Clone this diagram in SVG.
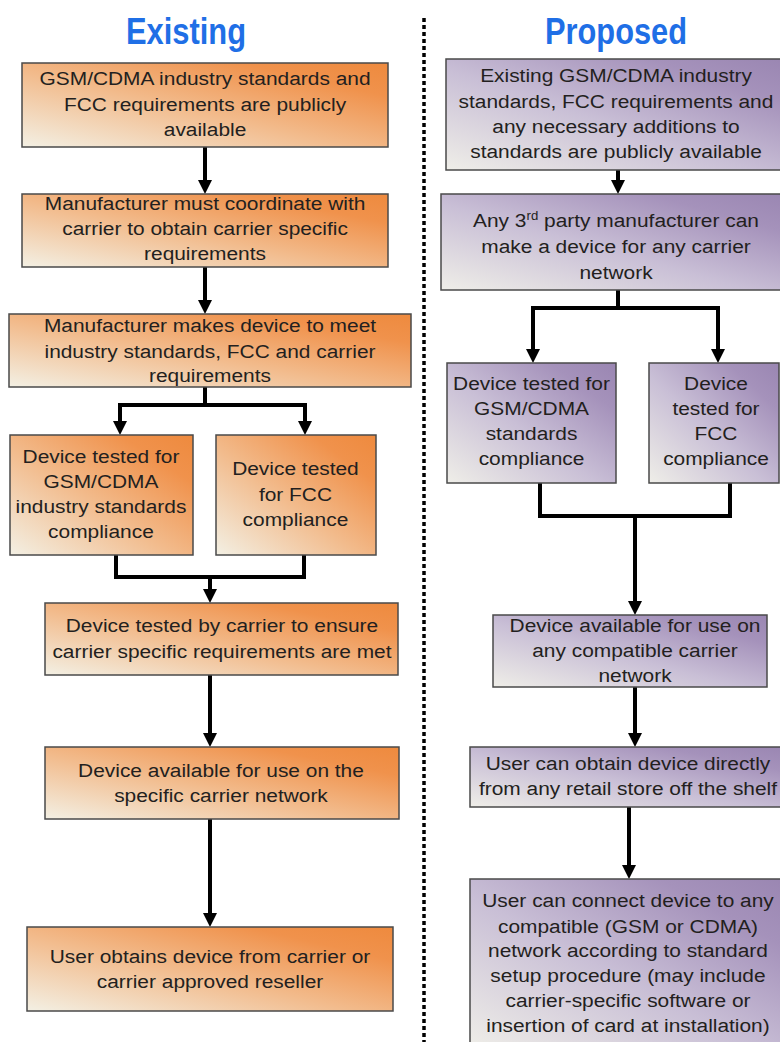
<svg xmlns="http://www.w3.org/2000/svg" width="780" height="1042" viewBox="0 0 780 1042">
<style>
.t{font-family:"Liberation Sans",Arial,sans-serif;font-size:19px;fill:#231f20;text-anchor:middle}
.h{font-family:"Liberation Sans",Arial,sans-serif;font-weight:bold;font-size:36px;fill:#1f6fe6;text-anchor:middle}
.o{fill:url(#og);stroke:#4a4a4a;stroke-width:1.5}
.p{fill:url(#pg);stroke:#4a4a4a;stroke-width:1.5}
.c{fill:none;stroke:#000;stroke-width:4;marker-end:url(#ah)}
.cn{fill:none;stroke:#000;stroke-width:4}
</style>
<defs>
<linearGradient id="og" x1="0" y1="1" x2="1" y2="0">
<stop offset="0" stop-color="#f3f0e4"/>
<stop offset="0.45" stop-color="#f2bb8c"/>
<stop offset="0.8" stop-color="#f0924c"/>
<stop offset="1" stop-color="#ee8a3e"/>
</linearGradient>
<linearGradient id="pg" x1="0" y1="1" x2="1" y2="0">
<stop offset="0" stop-color="#efeee8"/>
<stop offset="0.45" stop-color="#c9bfd6"/>
<stop offset="0.8" stop-color="#a592bb"/>
<stop offset="1" stop-color="#9a86b2"/>
</linearGradient>
<marker id="ah" viewBox="0 0 14 14" markerWidth="14" markerHeight="14" refX="6" refY="7" orient="auto" markerUnits="userSpaceOnUse">
<path d="M0,0 L14,7 L0,14 z" fill="#000"/>
</marker>
</defs>
<rect width="780" height="1042" fill="#fff"/>

<text class="h" x="186" y="44" textLength="120" lengthAdjust="spacingAndGlyphs">Existing</text>
<text class="h" x="616" y="44" textLength="142" lengthAdjust="spacingAndGlyphs">Proposed</text>
<line x1="424" y1="18" x2="424" y2="1042" stroke="#000" stroke-width="3.5" stroke-dasharray="4 3"/>

<g id="connectors">
<path class="c" d="M205,147 V186"/>
<path class="c" d="M205,267 V306"/>
<path class="c" d="M205,387 V405 H120 V427"/>
<path class="c" d="M205,405 H305 V427"/>
<path class="cn" d="M116,555 V577 H304 V555"/>
<path class="c" d="M210,577 V595"/>
<path class="c" d="M210,675 V739"/>
<path class="c" d="M210,819 V919"/>
<path class="c" d="M618,170 V186"/>
<path class="c" d="M618,290 V308 H533 V355"/>
<path class="c" d="M618,308 H718 V355"/>
<path class="cn" d="M540,483 V516 H730 V483"/>
<path class="c" d="M635,516 V607"/>
<path class="c" d="M635,687 V739"/>
<path class="c" d="M629,807 V871"/>
</g>

<g id="L1"><rect class="o" x="22" y="63" width="366" height="84"/>
<text class="t" transform="scale(1.1,1)"><tspan x="186.4" y="85">GSM/CDMA industry standards and</tspan><tspan x="186.4" y="111">FCC requirements are publicly</tspan><tspan x="186.4" y="136">available</tspan></text></g>
<g id="L2"><rect class="o" x="22" y="194" width="366" height="73"/>
<text class="t" transform="scale(1.1,1)"><tspan x="186.4" y="210">Manufacturer must coordinate with</tspan><tspan x="186.4" y="235">carrier to obtain carrier specific</tspan><tspan x="186.4" y="260">requirements</tspan></text></g>
<g id="L3"><rect class="o" x="9" y="314" width="402" height="73"/>
<text class="t" transform="scale(1.1,1)"><tspan x="190.9" y="332">Manufacturer makes device to meet</tspan><tspan x="190.9" y="358">industry standards, FCC and carrier</tspan><tspan x="190.9" y="382">requirements</tspan></text></g>
<g id="L4a"><rect class="o" x="10" y="435" width="183" height="120"/>
<text class="t" transform="scale(1.1,1)"><tspan x="91.8" y="463">Device tested for</tspan><tspan x="91.8" y="488">GSM/CDMA</tspan><tspan x="91.8" y="513">industry standards</tspan><tspan x="91.8" y="538">compliance</tspan></text></g>
<g id="L4b"><rect class="o" x="216" y="435" width="160" height="120"/>
<text class="t" transform="scale(1.1,1)"><tspan x="268.6" y="475">Device tested</tspan><tspan x="268.6" y="501">for FCC</tspan><tspan x="268.6" y="526">compliance</tspan></text></g>
<g id="L5"><rect class="o" x="45" y="603" width="353" height="72"/>
<text class="t" transform="scale(1.1,1)"><tspan x="201.8" y="632">Device tested by carrier to ensure</tspan><tspan x="201.8" y="658">carrier specific requirements are met</tspan></text></g>
<g id="L6"><rect class="o" x="45" y="747" width="354" height="72"/>
<text class="t" transform="scale(1.1,1)"><tspan x="200.9" y="777">Device available for use on the</tspan><tspan x="200.9" y="802">specific carrier network</tspan></text></g>
<g id="L7"><rect class="o" x="27" y="927" width="366" height="84"/>
<text class="t" transform="scale(1.1,1)"><tspan x="190.9" y="963">User obtains device from carrier or</tspan><tspan x="190.9" y="988">carrier approved reseller</tspan></text></g>

<g id="R1"><rect class="p" x="446" y="59" width="340" height="111"/>
<text class="t" transform="scale(1.1,1)"><tspan x="560" y="82">Existing GSM/CDMA industry</tspan><tspan x="560" y="108">standards, FCC requirements and</tspan><tspan x="560" y="133">any necessary additions to</tspan><tspan x="560" y="158">standards are publicly available</tspan></text></g>
<g id="R2"><rect class="p" x="441" y="194" width="345" height="96"/>
<text class="t" transform="scale(1.1,1)"><tspan x="560" y="227">Any 3<tspan dy="-7" font-size="12">rd</tspan><tspan dy="7"> party manufacturer can</tspan></tspan><tspan x="560" y="253">make a device for any carrier</tspan><tspan x="560" y="279">network</tspan></text></g>
<g id="R3a"><rect class="p" x="447" y="363" width="169" height="120"/>
<text class="t" transform="scale(1.1,1)"><tspan x="483.2" y="390">Device tested for</tspan><tspan x="483.2" y="415">GSM/CDMA</tspan><tspan x="483.2" y="440">standards</tspan><tspan x="483.2" y="465">compliance</tspan></text></g>
<g id="R3b"><rect class="p" x="649" y="363" width="130" height="120"/>
<text class="t" transform="scale(1.1,1)"><tspan x="650.9" y="390">Device</tspan><tspan x="650.9" y="415">tested for</tspan><tspan x="650.9" y="440">FCC</tspan><tspan x="650.9" y="465">compliance</tspan></text></g>
<g id="R4"><rect class="p" x="493" y="615" width="274" height="72"/>
<text class="t" transform="scale(1.1,1)"><tspan x="577.3" y="632">Device available for use on</tspan><tspan x="577.3" y="657">any compatible carrier</tspan><tspan x="577.3" y="682">network</tspan></text></g>
<g id="R5"><rect class="p" x="470" y="747" width="315" height="60"/>
<text class="t" transform="scale(1.1,1)"><tspan x="570.9" y="770">User can obtain device directly</tspan><tspan x="570.9" y="795">from any retail store off the shelf</tspan></text></g>
<g id="R6"><rect class="p" x="470" y="879" width="315" height="170"/>
<text class="t" transform="scale(1.1,1)"><tspan x="570.9" y="907">User can connect device to any</tspan><tspan x="570.9" y="933">compatible (GSM or CDMA)</tspan><tspan x="570.9" y="957">network according to standard</tspan><tspan x="570.9" y="982">setup procedure (may include</tspan><tspan x="570.9" y="1007">carrier-specific software or</tspan><tspan x="570.9" y="1032">insertion of card at installation)</tspan></text></g>
</svg>
